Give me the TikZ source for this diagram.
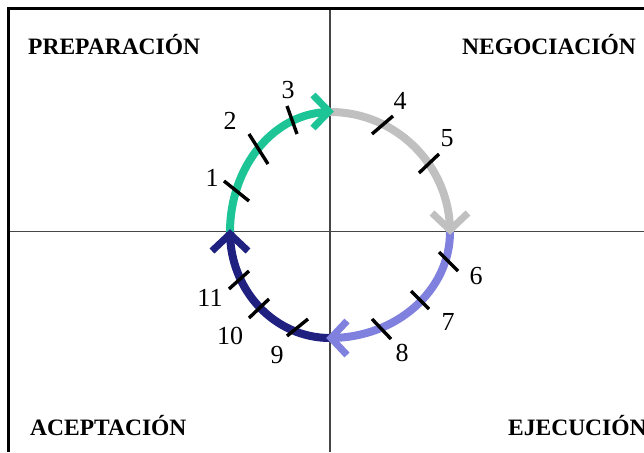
\documentclass[tikz,border=0pt]{standalone}
\usepackage{fontspec}
\setmainfont{Liberation Serif}
\definecolor{cgreen}{RGB}{28,196,150}
\definecolor{cgray}{RGB}{192,192,192}
\definecolor{clilac}{RGB}{128,128,222}
\definecolor{cnavy}{RGB}{32,32,128}
\definecolor{caxis}{RGB}{70,70,70}
\tikzset{
  arcseg/.style={line width=8pt},
  chev/.style={line width=7pt, line join=miter},
  tick/.style={line width=3.4pt, black},
  num/.style={font=\fontsize{26}{26}\selectfont, inner sep=0pt},
  head/.style={font=\fontsize{23.5}{24}\selectfont\bfseries, inner sep=0pt},
  axis/.style={line width=1.2pt, caxis},
  frame/.style={line width=3pt, black}
}
\begin{document}
\begin{tikzpicture}[x=1pt,y=-1pt]
\useasboundingbox (0,0) rectangle (644,452);
\fill[white] (0,0) rectangle (644,452);
% frame and axes
\draw[axis] (330,8.7) -- (330,452);
\draw[axis] (8.7,231.5) -- (644,231.5);
\draw[frame] (8.7,452) -- (8.7,8.7) -- (644,8.7);
% headings
\node[head, anchor=base west] (hprep) at (28,55) {PREPARACIÓN};
\node[head, anchor=base west] (hneg) at (462,55) {NEGOCIACIÓN};
\node[head, anchor=base west] (hacep) at (30,435) {ACEPTACIÓN};
\node[head, anchor=base west] (heje) at (508,435) {EJECUCIÓN};
% arcs (center 330,232; y axis points down)
\draw[arcseg, cgreen] (230,232) arc[start angle=180, end angle=270, x radius=100, y radius=120];
\draw[arcseg, cgray] (330,112) arc[start angle=270, end angle=360, x radius=120, y radius=120];
\draw[arcseg, clilac] (450,232) arc[start angle=0, end angle=90, x radius=120, y radius=106];
\draw[arcseg, cnavy] (330,338) arc[start angle=90, end angle=180, x radius=100, y radius=106];
% chevrons
\draw[chev, cgreen] (313,95) -- (329,111.5) -- (313,128);
\draw[chev, cgray] (432,213) -- (450,230) -- (468,213);
\draw[chev, clilac] (347,321) -- (331,338) -- (347,355);
\draw[chev, cnavy] (212,251) -- (230,234) -- (248,251);
% ticks
\draw[tick] (224,181) -- (249,201);
\draw[tick] (249,134) -- (268,164);
\draw[tick] (287,106) -- (297,134);
\draw[tick] (372,134) -- (393,116);
\draw[tick] (419,173) -- (439,154);
\draw[tick] (439,252) -- (458,271);
\draw[tick] (411,291) -- (429,309);
\draw[tick] (372,319) -- (391,339);
\draw[tick] (287,336) -- (308,319);
\draw[tick] (249,318) -- (269,299);
\draw[tick] (229,289) -- (249,271);
% numbers
\node[num] (n1) at (212,178) {1};
\node[num] (n2) at (230,121) {2};
\node[num] (n3) at (288,90) {3};
\node[num] (n4) at (400,101) {4};
\node[num] (n5) at (447,138) {5};
\node[num] (n6) at (476,276) {6};
\node[num] (n7) at (448,322) {7};
\node[num] (n8) at (402,353) {8};
\node[num] (n9) at (277,355) {9};
\node[num] (n10) at (230,336) {10};
\node[num] (n11) at (210,298) {11};
\end{tikzpicture}
\end{document}
